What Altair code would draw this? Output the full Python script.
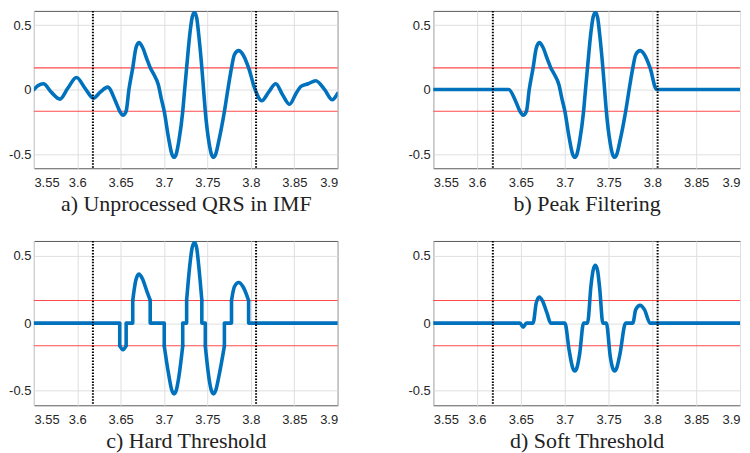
import altair as alt
import pandas as pd

# ---------------- data ----------------
X_DOMAIN = [3.55, 3.9]
Y_DOMAIN = [-0.61, 0.61]
x_ticks = [3.55, 3.6, 3.65, 3.7, 3.75, 3.8, 3.85, 3.9]
y_ticks = [-0.5, 0, 0.5]
thresholds = [0.168, -0.168]
qrs_bounds = [3.618, 3.806]
captions = ["a) Unprocessed QRS in IMF", "b) Peak Filtering",
            "c) Hard Threshold", "d) Soft Threshold"]

# a) unprocessed IMF
a_t = [3.550, 3.5545, 3.561, 3.570, 3.580, 3.589, 3.599, 3.609, 3.6185, 3.6265,
       3.635, 3.644, 3.6489, 3.6526, 3.6563, 3.6595, 3.6639, 3.6675, 3.671, 3.675,
       3.680, 3.684, 3.6878, 3.6934, 3.6968, 3.7002, 3.705, 3.709, 3.7115, 3.714,
       3.717, 3.7215, 3.7237, 3.726, 3.730, 3.7325, 3.735, 3.7375, 3.740, 3.7435,
       3.7455, 3.7475, 3.752, 3.7545, 3.757, 3.7595, 3.763, 3.7695, 3.7735, 3.7777,
       3.781, 3.786, 3.791, 3.7974, 3.8049, 3.8125, 3.8205, 3.8287, 3.8365, 3.8446,
       3.852, 3.8578, 3.866, 3.8748, 3.885, 3.8938, 3.900]
a_v = [0.000, 0.030, 0.045, -0.020, -0.074, 0.010, 0.094, 0.010, -0.067, -0.020,
       0.019, -0.090, -0.168, -0.198, -0.168, 0.000, 0.168, 0.320, 0.364, 0.330,
       0.240, 0.170, 0.123, 0.037, -0.070, -0.169, -0.370, -0.500, -0.525, -0.500,
       -0.400, -0.170, 0.000, 0.170, 0.450, 0.565, 0.599, 0.560, 0.420, 0.170,
       0.000, -0.170, -0.420, -0.500, -0.525, -0.500, -0.400, -0.170, 0.000, 0.168,
       0.270, 0.302, 0.270, 0.168, 0.000, -0.087, -0.020, 0.045, -0.040, -0.114,
       -0.030, 0.025, 0.045, 0.069, 0.000, -0.079, -0.030]

# b) peak filtering
b_t = [3.550, 3.636, 3.644, 3.6489, 3.6526, 3.6563, 3.6595, 3.6639, 3.6675, 3.671,
       3.675, 3.680, 3.684, 3.6878, 3.6934, 3.6968, 3.7002, 3.705, 3.709, 3.7115,
       3.714, 3.717, 3.7215, 3.7237, 3.726, 3.730, 3.7325, 3.735, 3.7375, 3.740,
       3.7435, 3.7455, 3.7475, 3.752, 3.7545, 3.757, 3.7595, 3.763, 3.7695, 3.7735,
       3.7777, 3.781, 3.786, 3.791, 3.7974, 3.8049, 3.900]
b_v = [0.000, 0.000, -0.090, -0.168, -0.198, -0.168, 0.000, 0.168, 0.320, 0.364,
       0.330, 0.240, 0.170, 0.123, 0.037, -0.070, -0.169, -0.370, -0.500, -0.525,
       -0.500, -0.400, -0.170, 0.000, 0.170, 0.450, 0.565, 0.599, 0.560, 0.420,
       0.170, 0.000, -0.170, -0.420, -0.500, -0.525, -0.500, -0.400, -0.170, 0.000,
       0.168, 0.270, 0.302, 0.270, 0.168, 0.000, 0.000]

# c) hard threshold (segments: straight jumps and curved humps)
c_t = [3.55, 3.6489, 3.6489,
       3.6489, 3.6526, 3.6563,
       3.6563, 3.6563, 3.6639, 3.6639,
       3.6639, 3.6675, 3.671, 3.675, 3.680, 3.684,
       3.684, 3.684, 3.7002, 3.7002,
       3.7002, 3.705, 3.709, 3.7115, 3.714, 3.717, 3.7215,
       3.7215, 3.7215, 3.726, 3.726,
       3.726, 3.730, 3.7325, 3.735, 3.7375, 3.740, 3.7435,
       3.7435, 3.7435, 3.7475, 3.7475,
       3.7475, 3.752, 3.7545, 3.757, 3.7595, 3.763, 3.7695,
       3.7695, 3.7695, 3.7777, 3.7777,
       3.7777, 3.781, 3.786, 3.791, 3.7974,
       3.7974, 3.7974, 3.9]
c_v = [0.0, 0.0, -0.168,
       -0.168, -0.198, -0.168,
       -0.168, 0.0, 0.0, 0.168,
       0.168, 0.320, 0.364, 0.330, 0.240, 0.170,
       0.170, 0.0, 0.0, -0.169,
       -0.169, -0.370, -0.500, -0.525, -0.500, -0.400, -0.170,
       -0.170, 0.0, 0.0, 0.170,
       0.170, 0.450, 0.565, 0.599, 0.560, 0.420, 0.170,
       0.170, 0.0, 0.0, -0.170,
       -0.170, -0.420, -0.500, -0.525, -0.500, -0.400, -0.170,
       -0.170, 0.0, 0.0, 0.168,
       0.168, 0.270, 0.302, 0.270, 0.168,
       0.168, 0.0, 0.0]
c_seg = [0] * 3 + [1] * 3 + [2] * 4 + [3] * 6 + [4] * 4 + [5] * 7 + [6] * 4 + \
        [7] * 7 + [8] * 4 + [9] * 7 + [10] * 4 + [11] * 5 + [12] * 3
c_curved = [1, 3, 5, 7, 9, 11]

# d) soft threshold
d_t = [3.550, 3.6489, 3.6526, 3.6563, 3.6639, 3.6675, 3.671, 3.675, 3.680, 3.684,
       3.7002, 3.705, 3.709, 3.7115, 3.714, 3.717, 3.7215, 3.726, 3.730, 3.7325,
       3.735, 3.7375, 3.740, 3.7435, 3.7475, 3.752, 3.7545, 3.757, 3.7595, 3.763,
       3.7695, 3.7777, 3.781, 3.786, 3.791, 3.7974, 3.900]
d_v = [0.000, 0.000, -0.030, 0.000, 0.000, 0.150, 0.194, 0.160, 0.070, 0.000,
       0.000, -0.200, -0.330, -0.355, -0.330, -0.230, 0.000, 0.000, 0.280, 0.395,
       0.429, 0.390, 0.250, 0.000, 0.000, -0.250, -0.330, -0.355, -0.330, -0.230,
       0.000, 0.000, 0.100, 0.132, 0.100, 0.000, 0.000]

# ---------------- styling ----------------
BLUE = "#0072BD"
RED = "#ff4a4a"
LINE_W = 3.6


def encodings(caption):
    x_enc = alt.X("t:Q",
                  scale=alt.Scale(domain=X_DOMAIN, nice=False, zero=False),
                  axis=alt.Axis(values=x_ticks, format=".2~f", title=caption))
    y_enc = alt.Y("v:Q",
                  scale=alt.Scale(domain=Y_DOMAIN, nice=False, zero=False),
                  axis=alt.Axis(values=y_ticks, title=None,
                                labelExpr="replace(format(datum.value, '~g'), '\u2212', '-')"))
    return x_enc, y_enc


def panel(lines, caption, w, h):
    x_enc, y_enc = encodings(caption)
    red = alt.Chart(pd.DataFrame({"v": thresholds})).mark_rule(
        color=RED, strokeWidth=1.2).encode(y=y_enc)
    dotted = alt.Chart(pd.DataFrame({"t": qrs_bounds})).mark_rule(
        color="black", strokeWidth=2, strokeDash=[1.5, 1.5]).encode(x=x_enc)
    layers = [red]
    for df, interp in lines:
        layers.append(
            alt.Chart(df).mark_line(color=BLUE, strokeWidth=LINE_W, interpolate=interp,
                                    strokeJoin="round", strokeCap="round", clip=True)
            .encode(x=x_enc, y=y_enc, detail="seg:N", order="i:Q")
        )
    layers.append(dotted)
    return alt.layer(*layers).properties(width=w, height=h)


def frame(ts, vs, segs=None):
    return pd.DataFrame({"t": ts, "v": vs,
                         "seg": segs if segs is not None else [0] * len(ts),
                         "i": list(range(len(ts)))})


df_a = frame(a_t, a_v)
df_b = frame(b_t, b_v)
df_c = frame(c_t, c_v, c_seg)
df_c_curve = df_c[df_c["seg"].isin(c_curved)]
df_c_lin = df_c[~df_c["seg"].isin(c_curved)]
df_d = frame(d_t, d_v)

W_LEFT, W_RIGHT = 305, 308
H_TOP, H_BOTTOM = 158, 165

pa = panel([(df_a, "monotone")], captions[0], W_LEFT, H_TOP)
pb = panel([(df_b, "monotone")], captions[1], W_RIGHT, H_TOP)
pc = panel([(df_c_lin, "linear"), (df_c_curve, "monotone")], captions[2], W_LEFT, H_BOTTOM)
pd_ = panel([(df_d, "monotone")], captions[3], W_RIGHT, H_BOTTOM)

chart = alt.concat(pa, pb, pc, pd_, columns=2,
                   spacing={"row": 73, "column": 96}, bounds="flush").properties(
    padding=0
).configure_axis(
    labelFont="Liberation Sans", labelFontSize=13, labelColor="#262626",
    titleFont="Liberation Serif", titleFontSize=22, titleColor="#222222",
    titleFontWeight="normal", grid=True, gridColor="#dfdfdf", gridWidth=1,
    domain=False, ticks=False
).configure_axisX(
    labelPadding=8, titlePadding=4
).configure_axisY(
    labelPadding=3
).configure_view(
    stroke="#5a5a5a", strokeWidth=1
)

chart.save("out.html", embed_options={"renderer": "svg", "actions": False})
